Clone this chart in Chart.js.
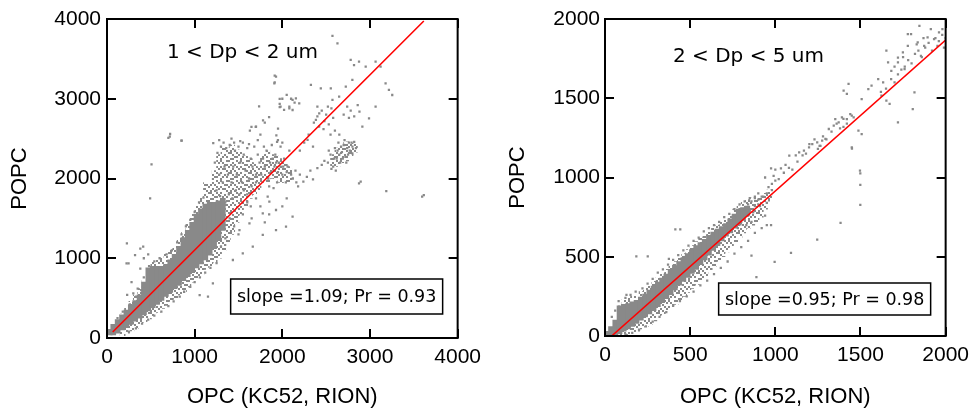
<!DOCTYPE html>
<html>
<head>
<meta charset="utf-8">
<script src="https://cdn.jsdelivr.net/npm/chart.js@4.4.1/dist/chart.umd.min.js"></script>
<style>
  body { margin: 0; background: #fff; }
  .row { display: flex; width: 976px; height: 410px; }
  canvas { display: block; }
</style>
</head>
<body>
<div class="row">
  <canvas id="fine" width="488" height="410"></canvas>
  <canvas id="coarse" width="488" height="410"></canvas>
</div>
<script>
const GRAY = '#898989';

// ---- 1 < Dp < 2 um ----
// solid core of the point cloud, one column per x
const fineBandX  = [60, 100, 150, 200, 250, 300, 350, 400, 450, 500, 550, 600, 650, 700, 750, 800, 850, 900, 950, 1000, 1050, 1100, 1150, 1200, 1250, 1300, 1350];
const fineBandLo = [40, 40, 60, 100, 130, 170, 210, 250, 290, 340, 380, 420, 470, 520, 570, 620, 660, 720, 770, 820, 880, 930, 980, 1040, 1120, 1220, 1350];
const fineBandHi = [110, 170, 230, 290, 350, 420, 470, 540, 700, 880, 900, 900, 900, 920, 980, 1050, 1150, 1260, 1350, 1450, 1550, 1620, 1680, 1700, 1700, 1720, 1750];

// speckled (less dense) part of the cloud
const fineHazeX  = [150, 200, 250, 300, 350, 400, 450, 500, 550, 600, 650, 700, 750, 800, 850, 900, 950, 1000, 1050, 1100, 1150, 1200, 1250, 1300, 1350, 1400, 1450, 1500, 1550, 1600, 1650, 1700, 1750, 1800, 1850, 1900, 1950, 2000, 2050, 2550, 2600, 2650, 2700, 2750, 2800];
const fineHazeLo = [30, 60, 90, 120, 160, 200, 240, 280, 320, 370, 410, 460, 500, 540, 580, 640, 700, 750, 800, 860, 900, 950, 1000, 1100, 1200, 1300, 1450, 1550, 1650, 1750, 1800, 1850, 1950, 1950, 2000, 2000, 1950, 1950, 1950, 2150, 2150, 2200, 2220, 2280, 2330];
const fineHazeHi = [300, 380, 460, 540, 620, 720, 850, 950, 980, 1000, 1050, 1100, 1150, 1250, 1350, 1450, 1550, 1650, 1750, 1950, 1950, 2100, 2300, 2400, 2380, 2420, 2360, 2350, 2280, 2250, 2200, 2150, 2300, 2350, 2300, 2280, 2250, 2200, 2150, 2300, 2380, 2420, 2460, 2440, 2430];

const finePoints = [
  [120,250],[180,330],[260,420],[330,520],[390,600],[420,650],[250,80],[330,120],[400,180],[470,230],
  [540,280],[620,330],[700,400],[760,460],[830,520],[880,580],[950,640],[1000,700],[1060,760],[1120,820],
  [1180,880],[1250,940],[300,560],[350,620],[420,760],[480,900],[540,960],[600,1000],[680,1050],[740,1100],
  [800,1200],[850,1300],[900,1400],[950,1480],[1000,1580],[1050,1700],[1100,1760],[230,540],[280,700],[380,870],
  [470,1050],[227,1187],[246,936],[492,1751],[380,1120],[420,1000],[320,1040],[716,2525],[849,2475],[508,2178],
  [223,936],[413,1145],[1057,539],[1152,518],[1208,686],[1436,978],[1549,1062],[1663,1145],[1777,1292],[1928,1354],
  [2042,1396],[2117,1522],[1777,1563],[1928,1605],[1511,1354],[1625,1438],[1833,1772],[1852,1710],[1928,3277],[1909,3194],
  [2080,2901],[2117,2985],[2155,3006],[2193,2943],[2117,2859],[2326,3173],[2439,3131],[2553,3131],[2572,3787],[2629,3695],
  [2780,3486],[2818,3423],[2875,3465],[2951,3403],[3064,3465],[3121,3403],[3178,3194],[3216,3110],[3254,3047],[3064,2901],
  [2989,2755],[2913,2650],[2875,1940],[2894,1961],[3186,1843],[3595,1772],[3614,1793],[2572,2985],[2648,3026],[2799,3236],
  [2724,3152],[2421,2817],[2383,2734],[2288,2483],[2799,2316],[720,2558],[700,2508],[852,2474],[1212,2445],[1913,3289],
  [1913,3206],[1970,2997],[1970,2937],[1970,2895],[1735,2904],[1849,2771],[1780,2729],[1648,2646],[1697,2646],[1951,2625],
  [1932,2541],[1940,2458],
  [1230,2200],[1260,2320],[1280,2050],[1300,2400],[1320,1950],[1340,2150],[1360,2380],[1380,2050],[1400,2420],[1420,1950],
  [1440,2150],[1460,2350],[1480,2050],[1500,2400],[1520,2200],[1540,1950],[1560,2300],[1580,2100],[1600,2380],[1620,2000],
  [1640,2250],[1660,2150],[1680,2400],[1700,2050],[1250,1850],[1290,1780],[1350,1700],[1390,1800],[1430,1750],[1470,1850],
  [1510,1800],[1560,1850],[1600,1800],[1650,1900],[1700,1950],[1720,2300],[1740,2200],[1550,2450],[1450,2450],[1330,2450],
  [1600,1700],[1640,1650],[1700,1750],[1280,2480],[1420,2500],[1520,2470],[1620,2430],
  [1760,2050],[1780,2250],[1800,2150],[1820,2350],[1840,2000],[1860,2200],[1880,2420],[1900,2100],[1920,2300],[1940,1950],
  [1960,2200],[1980,2400],[2000,2050],[2020,2250],[2040,1950],[2060,2150],[2080,2350],[2100,2050],[1850,1900],[1900,1880],
  [1950,2480],[2000,2450],[1790,2400],[1870,2080],[1910,2150],[1950,2080],[1980,2150],[1890,2250],[1930,2200],[2010,2150],
  [2050,2080],
  [2120,2000],[2160,1950],[2200,2050],[2240,1960],[2280,2020],[2320,2100],[2150,2100],[2350,1990],[2180,1900],
  [2520,2200],[2550,2300],[2580,2150],[2600,2380],[2620,2250],[2640,2450],[2660,2200],[2680,2330],[2700,2420],[2720,2270],
  [2740,2380],[2760,2450],[2780,2320],[2800,2400],[2820,2460],[2840,2380],[2560,2120],[2610,2100],[2650,2300],[2690,2250],
  [2730,2200],[2770,2350],[2590,2250],[2630,2350],[2710,2480],[2750,2300],[2790,2450],[2480,2220],[2450,2170],[2400,2130],
  [2530,2350],[2670,2400],
  [2360,2700],[2400,2780],[2420,2650],[2450,2850],[2480,2720],[2500,2800],[2530,2680],[2560,2880],[2400,2900],[2470,2620],
  [2520,2900],[2580,2760],[2700,2800],[2740,2900],[2780,2850],[2820,2780],[2860,2920],[2880,2840],[2760,2760],
  [1980,2900],[2000,3000],[2050,3050],[2100,3000],[2140,2950],[2080,2880],[2020,2860],
  [1630,2600],[1700,2650],[1750,2550],[1800,2700],[1720,2480],
  [1300,1150],[1350,1250],[1400,1500],[1450,1400],[1500,1300],[1550,1550],[1650,1500],[1750,1650],[1800,1450],[2000,1650],
  [2050,1750],[1850,1550],[2200,2350],[2250,2450],[2300,2550],[2350,2400],[2550,2550],[2600,2600],[2650,2550]
];
const fineFit = [[65, 75], [3614, 3975]];

// ---- 2 < Dp < 5 um ----
const coarseBandX  = [30, 50, 75, 100, 125, 150, 175, 200, 225, 250, 275, 300, 325, 350, 375, 400, 425, 450, 475, 500, 525, 550, 575, 600, 625, 650, 675, 700, 725, 750, 775, 800, 825, 850];
const coarseBandLo = [0, 0, 5, 15, 30, 45, 60, 80, 100, 120, 140, 160, 185, 210, 235, 260, 290, 320, 345, 370, 395, 420, 450, 480, 510, 540, 570, 600, 630, 650, 680, 700, 730, 760];
const coarseBandHi = [30, 60, 100, 190, 200, 205, 215, 225, 245, 265, 290, 315, 340, 365, 390, 420, 445, 470, 495, 520, 545, 570, 590, 610, 635, 655, 675, 690, 710, 740, 770, 800, 810, 820];

const coarseHazeX  = [50, 75, 100, 125, 150, 175, 200, 225, 250, 275, 300, 325, 350, 375, 400, 425, 450, 475, 500, 525, 550, 575, 600, 625, 650, 675, 700, 725, 750, 775, 800, 825, 850, 875, 900, 925, 950];
const coarseHazeLo = [0, 0, 0, 10, 20, 30, 45, 60, 75, 95, 115, 135, 155, 180, 200, 225, 250, 275, 300, 325, 350, 380, 410, 440, 470, 500, 530, 560, 590, 620, 650, 680, 700, 720, 750, 800, 850];
const coarseHazeHi = [110, 190, 230, 240, 250, 260, 280, 300, 320, 345, 370, 395, 420, 445, 470, 495, 520, 545, 570, 595, 620, 640, 660, 680, 700, 720, 740, 770, 800, 820, 850, 860, 870, 870, 880, 900, 920];

const coarsePoints = [
  [40,120],[60,160],[80,220],[120,240],[150,260],[180,280],[220,300],[250,330],[280,360],[310,400],
  [340,420],[370,450],[400,480],[430,510],[460,540],[490,570],[520,600],[550,620],[580,660],[610,680],
  [640,700],[670,720],[700,750],[730,770],[760,800],[790,830],[820,850],[850,870],[880,880],[900,900],
  [80,0],[120,10],[160,20],[200,40],[240,60],[280,90],[320,120],[360,150],[400,190],[440,220],
  [480,250],[520,280],[560,320],[600,350],[640,390],[680,430],[720,470],[760,520],[800,560],[840,600],
  [880,650],[920,680],[950,700],
  [126,259],[184,502],[251,502],[413,672],[442,672],[375,486],[996,467],[1092,524],[1246,608],[1383,713],
  [1499,827],[1499,953],[1499,1026],[1450,1183],[889,372],[860,507],[975,699],[1033,1057],[975,1057],
  [720,700],[740,730],[760,760],[780,740],[800,780],[820,800],[840,830],[860,850],[880,820],[900,860],
  [760,700],[800,720],[840,760],[870,780],[790,800],[820,760],[850,790],[880,870],[910,820],[930,880],
  [750,690],[780,680],[830,700],[860,720],[940,760],[950,840],
  [1082,1138],[1140,1158],[1168,1169],[1198,1190],[1217,1211],[1246,1222],[1275,1232],[1265,1200],[1294,1243],[1314,1306],
  [1343,1327],[1352,1369],[1372,1348],[1391,1380],[1420,1369],[1449,1390],[1488,1296],[1507,1274],[1449,1190],[1401,1548],
  [1430,1590],[1420,1527],[1507,1495],[1546,1558],[1565,1579],[1604,1621],[1633,1600],[1662,1726],[1652,1800],[1720,1726],
  [1749,1789],[1759,1684],[1778,1831],[1797,1905],[1836,1852],[1855,1768],[1874,1831],[1913,1936],[1932,1873],[1952,1831],
  [1961,1915],[1981,1936],[1894,1884],[1846,1957],[1778,1905],[1720,1757],[1681,1673],[1623,1516],[1652,1485],[1671,1464],
  [1807,1432],[1817,1537],[1720,1348],[1497,1043],
  [1680,1620],[1700,1700],[1720,1650],[1740,1680],[1700,1600],[1760,1700],[1780,1740],[1800,1720],[1820,1780],[1840,1800],
  [1860,1760],[1880,1820],[1900,1850],[1920,1800],[1940,1880],[1960,1860],[1980,1900],[2000,1880],[1990,1820],[1870,1880],
  [1830,1840],[1750,1760],[1650,1560],[1620,1540],
  [1200,1210],[1230,1240],[1260,1200],[1280,1260],[1300,1240],[1250,1180],[1180,1150],[1160,1140],
  [1360,1340],[1380,1310],[1400,1370],[1420,1340],[1440,1400],[1460,1380],[1400,1320],[1330,1290],
  [960,940],[980,960],[1000,980],[1020,990],[1050,1030],[1080,1060],[1100,1050],[1130,1100],[1000,1050],[1060,1080],
  [1120,1140],[940,1000],[990,1010],[920,880],[950,900],[980,920],[900,830]
];
const coarseFit = [[39, 0], [2000, 1867]];

function bars(xs, lo, hi) {
  return xs.map((x, i) => ({ x: x, y: [lo[i], hi[i]] }));
}
function pts(list) {
  return list.map(p => ({ x: p[0], y: p[1] }));
}

// dotted fill used for the sparser parts of the cloud
function speckle() {
  const c = document.createElement('canvas');
  c.width = 20; c.height = 20;
  const g = c.getContext('2d');
  g.fillStyle = GRAY;
  const rows = [[0,3,4,8],[1,6,9],[2,3,5,7],[0,4,8],[1,2,6,9],[3,5,7],[0,4,5,8],[2,6,9],[1,3,7,8],[0,5,6]];
  rows.forEach((cols, r) => cols.forEach(cx => g.fillRect(cx * 2, r * 2, 2, 2)));
  return g.createPattern(c, 'repeat');
}
const HAZE = speckle();

const framePlugin = {
  id: 'frame',
  afterDraw(chart, args, opts) {
    const { ctx, chartArea: a, scales } = chart;
    ctx.save();
    ctx.strokeStyle = '#000';
    ctx.lineWidth = 2;
    ctx.beginPath();
    scales.x.ticks.forEach(t => {
      const px = Math.round(scales.x.getPixelForValue(t.value));
      ctx.moveTo(px, a.bottom); ctx.lineTo(px, a.bottom - 9);
      ctx.moveTo(px, a.top); ctx.lineTo(px, a.top + 9);
    });
    scales.y.ticks.forEach(t => {
      const py = Math.round(scales.y.getPixelForValue(t.value));
      ctx.moveTo(a.left, py); ctx.lineTo(a.left + 9, py);
      ctx.moveTo(a.right, py); ctx.lineTo(a.right - 9, py);
    });
    ctx.stroke();
    ctx.strokeRect(a.left, a.top, a.right - a.left, a.bottom - a.top);

    // size range label
    ctx.fillStyle = '#000';
    ctx.font = '20px "DejaVu Sans"';
    ctx.textBaseline = 'middle';
    ctx.textAlign = 'left';
    ctx.fillText(opts.label, a.left + opts.labelX, a.top + opts.labelY);

    // fit stats box
    const bw = 212, bh = opts.boxH;
    const bx = a.right - 227, by = a.bottom - opts.boxUp;
    ctx.fillStyle = '#fff';
    ctx.fillRect(bx, by, bw, bh);
    ctx.lineWidth = 1.5;
    ctx.strokeRect(bx, by, bw, bh);
    ctx.fillStyle = '#000';
    ctx.font = '17.5px "DejaVu Sans"';
    ctx.textAlign = 'center';
    ctx.fillText(opts.stats, bx + bw / 2, by + bh / 2 + 1);
    ctx.restore();
  }
};

function makeChart(id, cfg) {
  const tickFont = { family: '"Liberation Sans", Arial, sans-serif', size: 21 };
  const titleFont = { family: '"Liberation Sans", Arial, sans-serif', size: 22 };
  const plain = v => String(v);
  return new Chart(document.getElementById(id), {
    type: 'scatter',
    data: {
      datasets: [
        { type: 'line', data: pts(cfg.fit), borderColor: '#f00', borderWidth: 1.6, pointRadius: 0, order: 0 },
        { type: 'scatter', data: pts(cfg.points), pointStyle: 'rect', pointRadius: 1.6, backgroundColor: GRAY, borderWidth: 0, order: 1 },
        { type: 'bar', data: bars(cfg.bandX, cfg.bandLo, cfg.bandHi), backgroundColor: GRAY, barThickness: 5, borderWidth: 0, order: 2 },
        { type: 'bar', data: bars(cfg.hazeX, cfg.hazeLo, cfg.hazeHi), backgroundColor: HAZE, barThickness: 5, borderWidth: 0, order: 3 }
      ]
    },
    options: {
      responsive: false,
      animation: false,
      events: [],
      layout: { padding: { left: 0, right: cfg.padRight, top: 19, bottom: 0 } },
      plugins: {
        legend: { display: false },
        tooltip: { enabled: false },
        frame: { label: cfg.label, labelX: cfg.labelX, labelY: cfg.labelY, stats: cfg.stats, boxUp: cfg.boxUp, boxH: cfg.boxH }
      },
      scales: {
        x: {
          type: 'linear', min: 0, max: cfg.max, offset: false,
          ticks: { stepSize: cfg.step, font: tickFont, color: '#000', padding: 7, maxRotation: 0, callback: plain },
          grid: { display: false, drawTicks: false, offset: false },
          border: { display: false },
          title: { display: true, text: 'OPC (KC52, RION)', font: titleFont, color: '#000', padding: { top: 0, bottom: 0 } },
          afterFit: s => { s.height = cfg.xHeight; }
        },
        y: {
          type: 'linear', min: 0, max: cfg.max,
          ticks: { stepSize: cfg.step, font: tickFont, color: '#000', padding: cfg.yPad, callback: plain },
          grid: { display: false, drawTicks: false },
          border: { display: false },
          title: { display: true, text: 'POPC', font: titleFont, color: '#000', padding: { top: cfg.yTitlePad, bottom: 0 } },
          afterFit: s => { s.width = cfg.yWidth; }
        }
      }
    },
    plugins: [framePlugin]
  });
}

makeChart('fine', {
  max: 4000, step: 1000,
  bandX: fineBandX, bandLo: fineBandLo, bandHi: fineBandHi,
  hazeX: fineHazeX, hazeLo: fineHazeLo, hazeHi: fineHazeHi,
  points: finePoints, fit: fineFit,
  label: '1 < Dp < 2 um', labelX: 60, labelY: 34,
  stats: 'slope =1.09; Pr = 0.93', boxUp: 59, boxH: 35,
  padRight: 29, xHeight: 72, yWidth: 107, yPad: 6, yTitlePad: 7
});

makeChart('coarse', {
  max: 2000, step: 500,
  bandX: coarseBandX, bandLo: coarseBandLo, bandHi: coarseBandHi,
  hazeX: coarseHazeX, hazeLo: coarseHazeLo, hazeHi: coarseHazeHi,
  points: coarsePoints, fit: coarseFit,
  label: '2 < Dp < 5 um', labelX: 68, labelY: 38,
  stats: 'slope =0.95; Pr = 0.98', boxUp: 53, boxH: 32,
  padRight: 26, xHeight: 74, yWidth: 117, yPad: 5, yTitlePad: 17
});
</script>
</body>
</html>
